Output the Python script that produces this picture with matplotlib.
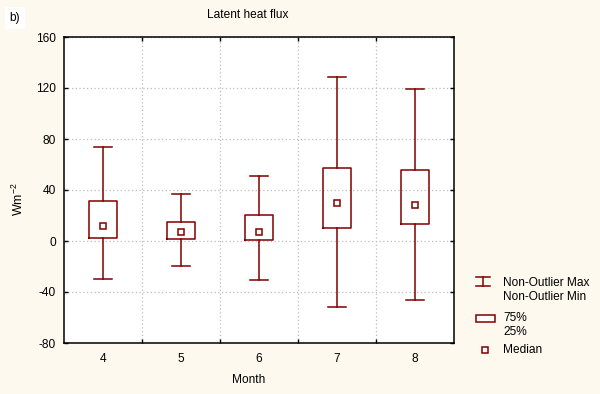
import matplotlib
matplotlib.use("Agg")
import matplotlib.pyplot as plt
from matplotlib.lines import Line2D
from matplotlib.patches import Rectangle

plt.rcParams['font.family'] = ['Liberation Sans', 'DejaVu Sans']
plt.rcParams['mathtext.fontset'] = 'custom'
plt.rcParams['mathtext.rm'] = 'Liberation Sans'
plt.rcParams['mathtext.it'] = 'Liberation Sans'

months = [4, 5, 6, 7, 8]
whis_max = [74, 37, 51, 129, 119]
q75 = [31, 15, 20.5, 57.5, 56]
q25 = [2.7, 1.8, 1, 10.4, 13.6]
medians = [11.5, 7, 7, 29.7, 28.2]
whis_min = [-29.6, -19.4, -30.4, -51.5, -46]
yticks = [-80, -40, 0, 40, 80, 120, 160]

RED = '#800000'
BG = '#FDF9EE'
W, H = 600, 394
FS = 8.6

fig = plt.figure(figsize=(6, 3.94), dpi=100, facecolor=BG)
ax = fig.add_axes([64 / W, (H - 343) / H, 390 / W, 306 / H])
ax.set_facecolor('white')

stats = []
for m, hi, a, b, med, lo in zip(months, whis_max, q75, q25, medians, whis_min):
    stats.append(dict(med=med, q1=b, q3=a, whislo=lo, whishi=hi, fliers=[], label=str(m)))

lp = dict(color=RED, linewidth=1.1)
ax.bxp(stats, positions=months, widths=0.37, capwidths=0.236,
       boxprops=lp, whiskerprops=lp, capprops=lp,
       medianprops=dict(linewidth=0), showfliers=False, manage_ticks=False)
ax.plot(months, medians, linestyle='none', marker='s', markersize=4.2,
        markerfacecolor='white', markeredgecolor=RED, markeredgewidth=1.1, zorder=5)

ax.set_xlim(3.5, 8.5)
ax.set_ylim(-80, 160)
ax.set_xticks(months)
ax.set_xticklabels([str(m) for m in months])
ax.set_xticks([4.5, 5.5, 6.5, 7.5], minor=True)
ax.set_yticks(yticks)
ax.set_yticklabels([str(v) for v in yticks])

ax.tick_params(axis='x', which='major', length=0, pad=7, labelsize=FS)
ax.tick_params(axis='x', which='minor', length=3, direction='in', top=True, bottom=True, width=1)
ax.tick_params(axis='y', which='major', length=3, direction='in', left=True, right=True,
               labelsize=FS, pad=6, width=1)

ax.grid(True, which='minor', axis='x', linestyle=(0, (1, 2)), color='#BDBDBD', linewidth=0.9)
ax.grid(True, which='major', axis='y', linestyle=(0, (1, 2)), color='#BDBDBD', linewidth=0.9)
ax.grid(False, which='major', axis='x')
ax.set_axisbelow(True)
for s in ax.spines.values():
    s.set_linewidth(1.1)
    s.set_color('black')

# Texts
fig.text(248 / W, 1 - 15 / H, 'Latent heat flux', ha='center', va='center', fontsize=FS)
fig.text(249 / W, 1 - 380 / H, 'Month', ha='center', va='center', fontsize=FS)
fig.text(18 / W, 1 - 199 / H, 'Wm$^{-2}$', ha='center', va='center', rotation=90, fontsize=FS + 0.4)
fig.text(15 / W, 1 - 18 / H, 'b)', ha='center', va='center', fontsize=FS,
         bbox=dict(facecolor='white', edgecolor='none', boxstyle='square,pad=0.4'))

# Legend (drawn manually in pixel coordinates)
def fx(x):
    return x / W

def fy(y):
    return 1 - y / H

tr = fig.transFigure
fig.add_artist(Line2D([fx(476), fx(490)], [fy(277), fy(277)], color=RED, lw=1.1, transform=tr))
fig.add_artist(Line2D([fx(476), fx(490)], [fy(286), fy(286)], color=RED, lw=1.1, transform=tr))
fig.add_artist(Line2D([fx(483), fx(483)], [fy(277), fy(286)], color=RED, lw=1.1, transform=tr))
fig.text(fx(503), fy(283), 'Non-Outlier Max', ha='left', va='center', fontsize=FS)
fig.text(fx(503), fy(297), 'Non-Outlier Min', ha='left', va='center', fontsize=FS)
fig.add_artist(Rectangle((fx(476), fy(322)), fx(19), 7 / H, facecolor='white',
                         edgecolor=RED, lw=1.1, transform=tr))
fig.text(fx(503), fy(318), '75%', ha='left', va='center', fontsize=FS)
fig.text(fx(503), fy(332), '25%', ha='left', va='center', fontsize=FS)
fig.add_artist(Line2D([fx(485)], [fy(350)], marker='s', markersize=4.2, linestyle='none',
                      markerfacecolor='white', markeredgecolor=RED, markeredgewidth=1.1,
                      transform=tr))
fig.text(fx(503), fy(350), 'Median', ha='left', va='center', fontsize=FS)

fig.savefig('out.png', dpi=100, facecolor=BG)
